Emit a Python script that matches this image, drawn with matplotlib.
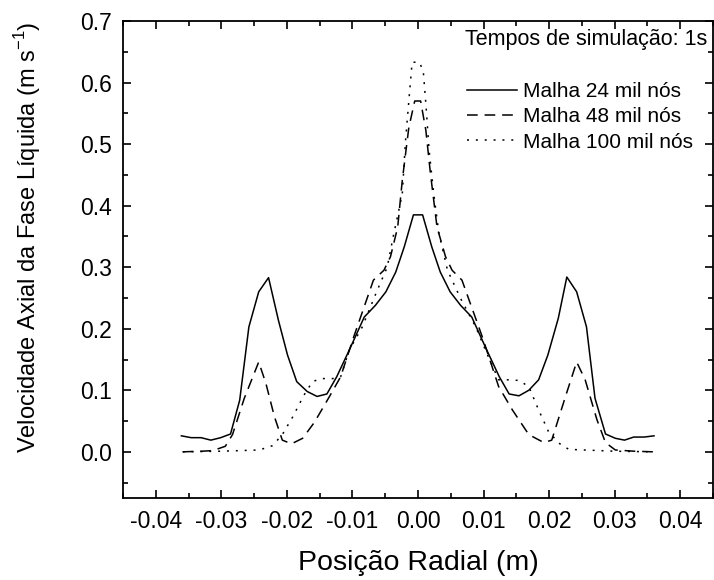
import matplotlib
matplotlib.use("Agg")
import matplotlib.pyplot as plt
from matplotlib.ticker import MultipleLocator

plt.rcParams['font.family'] = ['Liberation Sans', 'DejaVu Sans']

# malha 24 mil nos
x24 = [-0.0361, -0.0346, -0.0331, -0.0316, -0.0301, -0.0286, -0.0272, -0.0258,
       -0.0243, -0.0228, -0.0213, -0.0199, -0.0185, -0.0169, -0.0154, -0.0139,
       -0.0124, -0.0105, -0.0082, -0.0065, -0.0049, -0.0034, -0.0021, -0.0007,
       0.0007, 0.0021, 0.0034, 0.0049, 0.0065, 0.0082, 0.0105, 0.0124,
       0.0139, 0.0154, 0.0169, 0.0184, 0.0198, 0.0214, 0.0227, 0.0242,
       0.0257, 0.0270, 0.0286, 0.0301, 0.0315, 0.0329, 0.0345, 0.0360]
v24 = [0.026, 0.023, 0.023, 0.019, 0.023, 0.029, 0.084, 0.203,
       0.260, 0.283, 0.214, 0.157, 0.114, 0.098, 0.090, 0.094,
       0.122, 0.165, 0.219, 0.238, 0.260, 0.292, 0.333, 0.385,
       0.385, 0.333, 0.292, 0.260, 0.238, 0.219, 0.165, 0.122,
       0.094, 0.091, 0.100, 0.117, 0.157, 0.217, 0.284, 0.260,
       0.203, 0.087, 0.029, 0.022, 0.019, 0.024, 0.024, 0.026]

# malha 48 mil nos
x48 = [-0.0359, -0.0330, -0.0313, -0.0294, -0.0283, -0.0265, -0.0243, -0.0232,
       -0.0219, -0.0207, -0.0193, -0.0176, -0.0158, -0.0135, -0.0118, -0.0098,
       -0.0068, -0.0052, -0.0042, -0.0031, -0.0024, -0.0014, -0.0005,
       0.0004, 0.0012, 0.0019, 0.0029, 0.0042, 0.0052, 0.0067, 0.0098,
       0.0123, 0.0144, 0.0169, 0.0192, 0.0204, 0.0225, 0.0242, 0.0255,
       0.0273, 0.0286, 0.0301, 0.0330, 0.0359]
v48 = [0.000, 0.001, 0.002, 0.009, 0.028, 0.087, 0.146, 0.111,
       0.057, 0.019, 0.013, 0.022, 0.048, 0.090, 0.122, 0.187,
       0.279, 0.295, 0.317, 0.365, 0.441, 0.527, 0.570,
       0.570, 0.522, 0.452, 0.365, 0.317, 0.295, 0.279, 0.187,
       0.106, 0.068, 0.028, 0.015, 0.019, 0.090, 0.146, 0.117,
       0.052, 0.015, 0.003, 0.001, 0.000]

# malha 100 mil nos
x100 = [-0.0359, -0.0300, -0.0242, -0.0222, -0.0207, -0.0191, -0.0174, -0.0161,
        -0.0148, -0.0130, -0.0118, -0.0105, -0.0085, -0.0062, -0.0047, -0.0037,
        -0.0024, -0.0019, -0.0014, -0.0009, 0.0002, 0.0008, 0.0012, 0.0017,
        0.0024, 0.0032, 0.0045, 0.0065, 0.0088, 0.0105, 0.0123, 0.0139,
        0.0154, 0.0169, 0.0184, 0.0199, 0.0215, 0.0230, 0.0300, 0.0359]
v100 = [0.000, 0.001, 0.003, 0.010, 0.028, 0.057, 0.092, 0.114,
        0.119, 0.119, 0.122, 0.165, 0.203, 0.263, 0.300, 0.354,
        0.419, 0.506, 0.570, 0.633, 0.633, 0.619, 0.565, 0.489,
        0.419, 0.354, 0.295, 0.249, 0.203, 0.160, 0.117, 0.117,
        0.116, 0.106, 0.068, 0.033, 0.014, 0.004, 0.001, 0.000]

labels = ["Malha 24 mil nós", "Malha 48 mil nós", "Malha 100 mil nós"]
xticks = [-0.04, -0.03, -0.02, -0.01, 0.00, 0.01, 0.02, 0.03, 0.04]
yticks = [0.0, 0.1, 0.2, 0.3, 0.4, 0.5, 0.6, 0.7]

fig = plt.figure(figsize=(7.14, 5.8), dpi=100)
ax = fig.add_axes([0.1723, 0.1414, 0.8263, 0.8224])

ax.plot(x24, v24, color="black", lw=1.1, ls="-", label=labels[0])
ax.plot(x48, v48, color="black", lw=1.1, ls=(0, (7, 4.5)), label=labels[1])
ax.plot(x100, v100, color="black", lw=1.1, ls=(0, (1.3, 4.5)), label=labels[2])

ax.set_xlim(-0.045, 0.045)
ax.set_ylim(-0.075, 0.7)
ax.set_xticks(xticks)
ax.set_xticklabels([f"{t:.2f}" for t in xticks])
ax.set_yticks(yticks)
ax.set_yticklabels([f"{t:.1f}" for t in yticks])
ax.xaxis.set_minor_locator(MultipleLocator(0.005))
ax.yaxis.set_minor_locator(MultipleLocator(0.05))
ax.tick_params(which="both", direction="in", top=True, right=True,
               labelsize=16.5, width=1.2)
ax.tick_params(which="major", length=6)
ax.tick_params(axis="y", which="major", pad=8)
ax.tick_params(axis="x", which="major", pad=9)
ax.tick_params(which="minor", length=3.5)
for s in ax.spines.values():
    s.set_linewidth(1.3)

ax.set_xlabel("Posição Radial (m)", fontsize=20.5, labelpad=12)
ax.set_ylabel("Velocidade Axial da Fase Líquida (m s$^{\\mathregular{-1}}$)",
              fontsize=17)
ax.yaxis.set_label_coords(-0.135, 0.546)

ax.text(0.580, 0.962, "Tempos de simulação: 1s", transform=ax.transAxes,
        fontsize=15.5, va="center", ha="left")
ax.legend(loc="upper left", bbox_to_anchor=(0.583, 0.872), frameon=False,
          fontsize=15, handlelength=2.4, handletextpad=0.3,
          labelspacing=0.3, borderpad=0, borderaxespad=0)

fig.savefig("out.png", dpi=100)
